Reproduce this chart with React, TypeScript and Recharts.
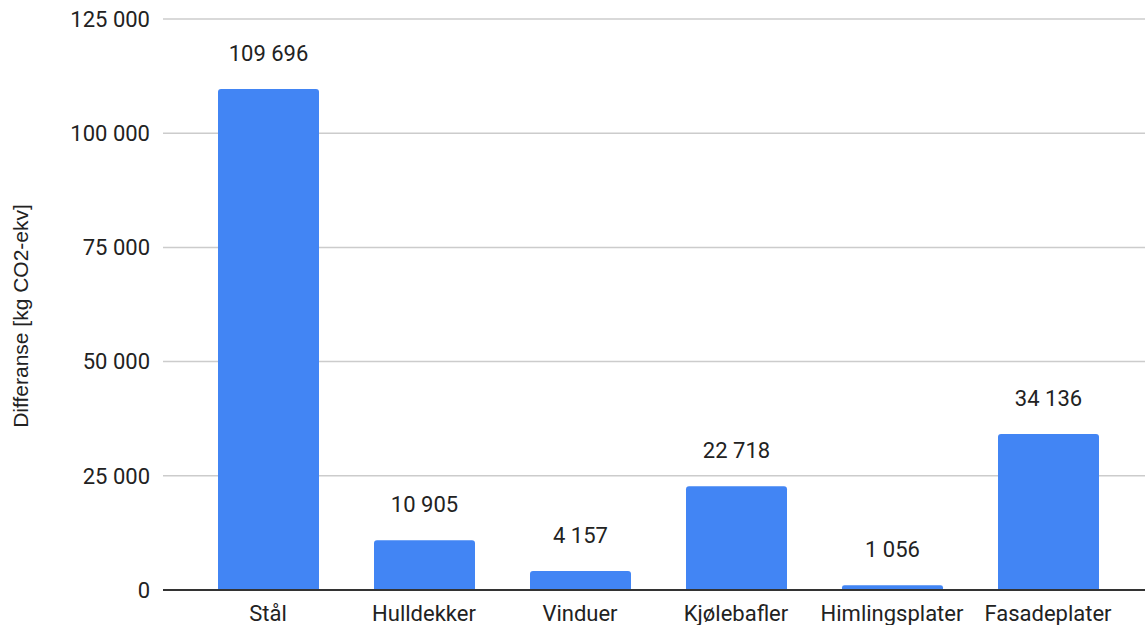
import React from "react";
import { BarChart, Bar, XAxis, YAxis, CartesianGrid, LabelList, ReferenceLine } from "recharts";

const categories = ["Stål", "Hulldekker", "Vinduer", "Kjølebafler", "Himlingsplater", "Fasadeplater"];
const differanse = [109696, 10905, 4157, 22718, 1056, 34136];
const yTicks = [0, 25000, 50000, 75000, 100000, 125000];

const data = categories.map((name, i) => ({ name, value: differanse[i] }));

// Norwegian style: space as thousands separator
const fmt = (v: number) => String(v).replace(/\B(?=(\d{3})+(?!\d))/g, " ");

const FONT = "Roboto, sans-serif";
const TEXT = "#222222";

export default function App() {
  return (
    <div style={{ position: "absolute", left: 0, top: 0, width: 1145, height: 625, background: "#fff" }}>
      <BarChart
        width={1145}
        height={625}
        data={data}
        margin={{ top: 19, right: 0, left: 0, bottom: 0 }}
      >
        <CartesianGrid vertical={false} stroke="#cccccc" strokeWidth={1.5} />
        <XAxis
          dataKey="name"
          height={35}
          padding={{ left: 27, right: 19 }}
          axisLine={false}
          tickLine={false}
          tickSize={0}
          tickMargin={15}
          interval={0}
          tick={{ fill: TEXT, fontSize: 22, fontFamily: FONT }}
        />
        <YAxis
          width={163}
          domain={[0, 125000]}
          ticks={yTicks}
          axisLine={false}
          tickLine={false}
          tickSize={0}
          tickMargin={13}
          tickFormatter={fmt}
          tick={{ fill: TEXT, fontSize: 22, fontFamily: FONT }}
          label={() => (
            <text
              x={28}
              y={316}
              transform="rotate(-90, 28, 316)"
              textAnchor="middle"
              fill={TEXT}
              fontSize={21}
              fontFamily="'Liberation Sans', Arial, sans-serif"
            >
              Differanse [kg CO2-ekv]
            </text>
          )}
        />
        <Bar dataKey="value" fill="#4285F4" barSize={101} radius={[3, 3, 0, 0]} isAnimationActive={false}>
          <LabelList
            dataKey="value"
            position="top"
            offset={28}
            formatter={(v: any) => fmt(Number(v))}
            style={{ fill: TEXT, fontSize: 22, fontFamily: FONT }}
          />
        </Bar>
        <ReferenceLine y={0} stroke="#333333" strokeWidth={2} />
      </BarChart>
    </div>
  );
}
